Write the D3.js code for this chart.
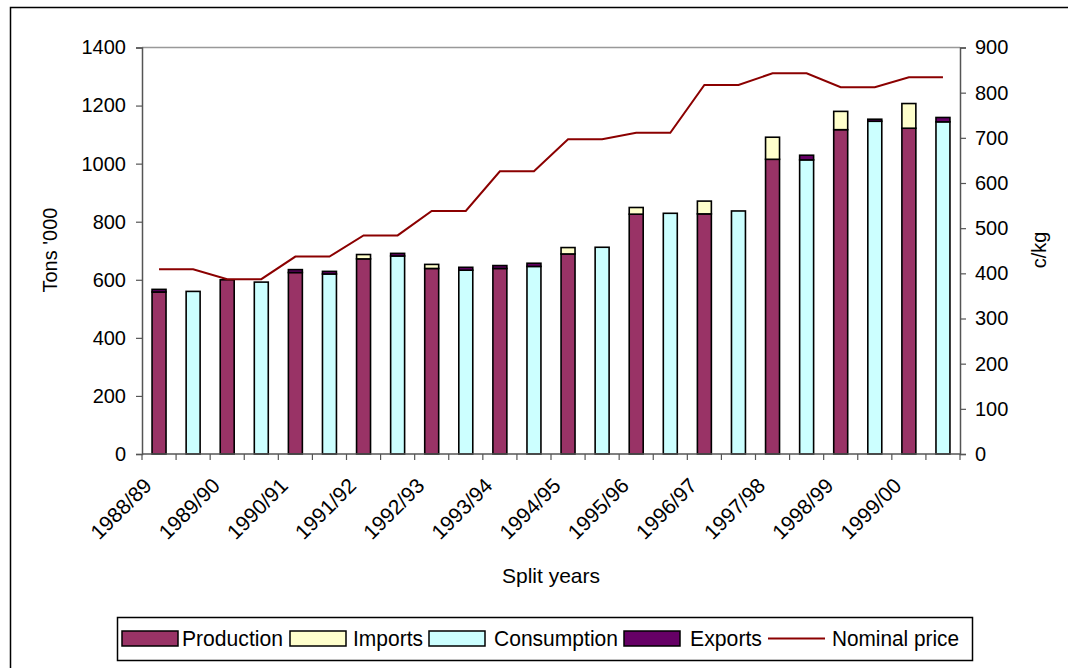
<!DOCTYPE html>
<html>
<head>
<meta charset="utf-8">
<script src="https://cdn.jsdelivr.net/npm/d3@7"></script>
<style>
  body { margin: 0; background: #fff; }
  svg { display: block; }
  text { font-family: "Liberation Sans", Arial, sans-serif; fill: #000; }
</style>
</head>
<body>
<svg id="chart" width="1068" height="668"></svg>
<script>
// Two slots per split year: the first carries production (+imports), the second consumption.
const slotLabels = ["1988/89", "", "1989/90", "", "1990/91", "", "1991/92", "", "1992/93", "", "1993/94", "",
                    "1994/95", "", "1995/96", "", "1996/97", "", "1997/98", "", "1998/99", "", "1999/00", ""];
const production  = [558, 0, 600, 0, 625, 0, 672, 0, 639, 0, 639, 0, 689, 0, 826, 0, 827, 0, 1015, 0, 1117, 0, 1122, 0];
const imports     = [0, 0, 0, 0, 0, 0, 15, 0, 14, 0, 0, 0, 22, 0, 23, 0, 44, 0, 76, 0, 63, 0, 85, 0];
const consumption = [0, 560, 0, 592, 0, 620, 0, 682, 0, 633, 0, 646, 0, 712, 0, 829, 0, 837, 0, 1013, 0, 1146, 0, 1144];
const exportsT    = [9, 0, 0, 0, 10, 9, 0, 9, 0, 10, 10, 11, 0, 0, 0, 0, 0, 0, 0, 16, 0, 7, 0, 15];
const nominalPrice = [409, 409, 387, 387, 437, 437, 484, 484, 538, 538, 626, 626, 697, 697, 711, 711, 817, 817, 843, 843, 812, 812, 834, 834];

const leftTicks  = [0, 200, 400, 600, 800, 1000, 1200, 1400];
const rightTicks = [0, 100, 200, 300, 400, 500, 600, 700, 800, 900];

const seriesKeys   = ["Production", "Imports", "Consumption", "Exports"];
const seriesColors = ["#993366", "#FFFFCC", "#CCFFFF", "#660066"];
const priceColor = "#8B0000";

const rows = slotLabels.map((lab, i) => ({
  slot: i, label: lab,
  Production: production[i], Imports: imports[i], Consumption: consumption[i], Exports: exportsT[i]
}));

const svg = d3.select("#chart");
const plot = { left: 142, right: 960, top: 47.5, bottom: 454 };

// outer frame
svg.append("rect").attr("x", 10.5).attr("y", 7.5).attr("width", 1080).attr("height", 700)
  .attr("fill", "none").attr("stroke", "#000").attr("stroke-width", 1.5);

const x = d3.scaleBand().domain(d3.range(slotLabels.length)).range([plot.left, plot.right]).paddingInner(0).paddingOuter(0);
const yL = d3.scaleLinear().domain([0, 1400]).range([plot.bottom, plot.top]);
const yR = d3.scaleLinear().domain([0, 900]).range([plot.bottom, plot.top]);

// plot area top edge
svg.append("line").attr("x1", plot.left).attr("x2", plot.right).attr("y1", plot.top).attr("y2", plot.top)
  .attr("stroke", "#999").attr("stroke-width", 1.5);

// stacked columns
const stack = d3.stack().keys(seriesKeys)(rows);
const barW = x.bandwidth() * 0.41;
svg.append("g").selectAll("g").data(stack).join("g")
  .attr("fill", (d, i) => seriesColors[i])
  .selectAll("rect").data(d => d.filter(s => s[1] - s[0] > 0)).join("rect")
  .attr("x", d => x(d.data.slot) + (x.bandwidth() - barW) / 2)
  .attr("width", barW)
  .attr("y", d => yL(d[1]))
  .attr("height", d => yL(d[0]) - yL(d[1]))
  .attr("stroke", "#000").attr("stroke-width", 1.6);

// nominal price line
const line = d3.line().x((d, i) => x(i) + x.bandwidth() / 2).y(d => yR(d));
svg.append("path").datum(nominalPrice).attr("d", line)
  .attr("fill", "none").attr("stroke", priceColor).attr("stroke-width", 2);

// left axis
const axL = svg.append("g").attr("transform", `translate(${plot.left},0)`)
  .call(d3.axisLeft(yL).tickValues(leftTicks).tickSize(6).tickPadding(10).tickFormat(d3.format("d")));
axL.select(".domain").attr("stroke", "#555").attr("stroke-width", 1.5);
axL.selectAll(".tick line").attr("stroke", "#555").attr("stroke-width", 1.2);
axL.selectAll("text").attr("font-size", 20).attr("font-family", "Liberation Sans, Arial");

// right axis
const axR = svg.append("g").attr("transform", `translate(${plot.right},0)`)
  .call(d3.axisRight(yR).tickValues(rightTicks).tickSize(6).tickPadding(9).tickFormat(d3.format("d")));
axR.select(".domain").attr("stroke", "#555").attr("stroke-width", 1.5);
axR.selectAll(".tick line").attr("stroke", "#555").attr("stroke-width", 1.2);
axR.selectAll("text").attr("font-size", 20).attr("font-family", "Liberation Sans, Arial");

// bottom axis: ticks on slot boundaries, labels every other slot
const bottom = svg.append("g");
bottom.append("line").attr("x1", plot.left).attr("x2", plot.right).attr("y1", plot.bottom).attr("y2", plot.bottom)
  .attr("stroke", "#555").attr("stroke-width", 1.5);
bottom.selectAll("line.tk").data(d3.range(slotLabels.length + 1)).join("line").attr("class", "tk")
  .attr("x1", i => i < slotLabels.length ? x(i) : plot.right)
  .attr("x2", i => i < slotLabels.length ? x(i) : plot.right)
  .attr("y1", plot.bottom).attr("y2", plot.bottom + 6)
  .attr("stroke", "#555").attr("stroke-width", 1.2);
bottom.selectAll("text").data(rows.filter(r => r.label)).join("text")
  .attr("transform", r => `translate(${x(r.slot) + x.bandwidth() / 2 - 6},${plot.bottom + 33}) rotate(-45)`)
  .attr("text-anchor", "end").attr("font-size", 21)
  .text(r => r.label);

// axis titles
svg.append("text").attr("transform", "translate(57,250) rotate(-90)").attr("text-anchor", "middle")
  .attr("font-size", 20).text("Tons '000");
svg.append("text").attr("transform", "translate(1046,250) rotate(-90)").attr("text-anchor", "middle")
  .attr("font-size", 20).text("c/kg");
svg.append("text").attr("x", 551).attr("y", 583).attr("text-anchor", "middle")
  .attr("font-size", 21).text("Split years");

// legend
const legend = svg.append("g");
legend.append("rect").attr("x", 117.5).attr("y", 617.5).attr("width", 855).attr("height", 43)
  .attr("fill", "#fff").attr("stroke", "#000").attr("stroke-width", 1.5);
const legendItems = [
  { name: "Production", kind: "box", color: seriesColors[0], sx: 122, tx: 182, tw: 101 },
  { name: "Imports", kind: "box", color: seriesColors[1], sx: 290, tx: 353, tw: 70 },
  { name: "Consumption", kind: "box", color: seriesColors[2], sx: 429, tx: 494, tw: 124 },
  { name: "Exports", kind: "box", color: seriesColors[3], sx: 624, tx: 690, tw: 72 },
  { name: "Nominal price", kind: "line", color: priceColor, sx: 768, tx: 832, tw: 127 }
];
legendItems.forEach(it => {
  if (it.kind === "box") {
    legend.append("rect").attr("x", it.sx).attr("y", 631).attr("width", 56).attr("height", 15)
      .attr("fill", it.color).attr("stroke", "#000").attr("stroke-width", 1.5);
  } else {
    legend.append("line").attr("x1", it.sx).attr("x2", it.sx + 57).attr("y1", 638.5).attr("y2", 638.5)
      .attr("stroke", it.color).attr("stroke-width", 2);
  }
  legend.append("text").attr("x", it.tx).attr("y", 646).attr("font-size", 22)
    .attr("textLength", it.tw).attr("lengthAdjust", "spacingAndGlyphs").text(it.name);
});
</script>
</body>
</html>
